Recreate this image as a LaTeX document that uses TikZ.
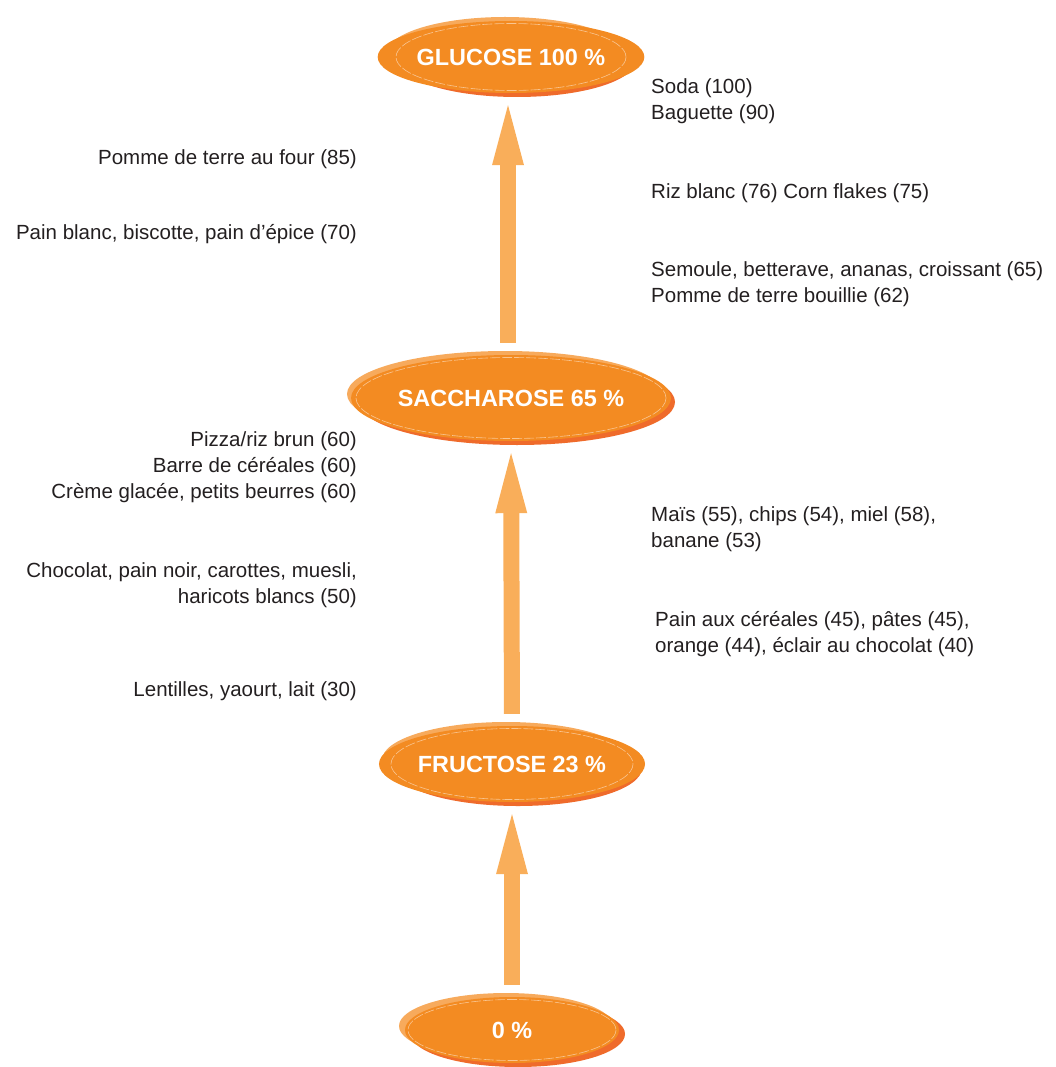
\documentclass[tikz,border=0pt]{standalone}
\usepackage{fontspec}
\setmainfont{Liberation Sans}
\usetikzlibrary{arrows.meta,calc,shapes.geometric}
\definecolor{mainor}{HTML}{F38B22}
\definecolor{lightor}{HTML}{F7AA5C}
\definecolor{darkor}{HTML}{EF6B2B}
\definecolor{arrowcol}{HTML}{F9AE5A}
\definecolor{txt}{HTML}{231F20}
\tikzset{
  bubble/.style={ellipse, inner sep=0pt, fill=mainor, text=white,
    font=\bfseries\fontsize{23.4}{26}\selectfont},
  shadowlight/.style={fill=lightor},
  shadowdark/.style={fill=darkor},
  rimline/.style={draw=white, draw opacity=0.5, line width=0.6pt, dash pattern=on 10pt off 2pt},
  label/.style={inner sep=0pt, text=txt, font=\fontsize{20.5}{26}\selectfont},
  lleft/.style={label, anchor=east, align=right},
  lright/.style={label, anchor=west, align=left},
  uparrow/.style={draw=arrowcol, line width=16pt,
    -{Triangle[width={32pt 0 0},length={60pt 0 0},line width=0pt]}, shorten <=12pt, shorten >=12pt}
}
\newcommand\backbubble[4]{%
  \fill[shadowlight] (#1-6,#2-4) ellipse ({#3/2} and {#4/2});
  \fill[shadowdark] (#1+6,#2+4) ellipse ({#3/2} and {#4/2});
}
\newcommand\rimbubble[4]{%
  \draw[rimline] (#1,#2) ellipse ({#3/2-3} and {#4/2-2.5});
}
\begin{document}
\begin{tikzpicture}[x=1pt,y=-1pt]
\useasboundingbox (0,0) rectangle (1055,1067);
% shadows
\backbubble{511}{57}{236}{72}
\backbubble{511}{398}{316}{86}
\backbubble{512}{764}{248}{76}
\backbubble{512}{1030}{214}{66}
% main bubbles
\node[bubble, minimum width=236pt, minimum height=72pt] (glu) at (511,57) {GLUCOSE 100 \%};
\node[bubble, minimum width=316pt, minimum height=86pt] (sac) at (511,398) {SACCHAROSE 65 \%};
\node[bubble, minimum width=248pt, minimum height=76pt] (fru) at (512,764) {FRUCTOSE 23 \%};
\node[bubble, minimum width=214pt, minimum height=66pt] (zero) at (512,1030) {0 \%};
\rimbubble{511}{57}{236}{72}
\rimbubble{511}{398}{316}{86}
\rimbubble{512}{764}{248}{76}
\rimbubble{512}{1030}{214}{66}
% arrows
\draw[uparrow] ([xshift=-3pt]sac.north) -- ([xshift=-3pt]glu.south);
\draw[uparrow] (fru.north) -- (sac.south);
\draw[uparrow] (zero.north) -- (fru.south);
% right labels
\node[lright] (t1) at (651,101) {Soda (100)\\Baguette (90)};
\node[lright] (t2) at (651,193) {Riz blanc (76) Corn flakes (75)};
\node[lright] (t3) at (651,284) {Semoule, betterave, ananas, croissant (65)\\Pomme de terre bouillie (62)};
\node[lright] (t4) at (651,529) {Maïs (55), chips (54), miel (58),\\banane (53)};
\node[lright] (t5) at (655,634) {Pain aux céréales (45), pâtes (45),\\orange (44), éclair au chocolat (40)};
% left labels
\node[lleft] (s1) at (357,159) {Pomme de terre au four (85)};
\node[lleft] (s2) at (357,234) {Pain blanc, biscotte, pain d’épice (70)};
\node[lleft] (s3) at (357,467) {Pizza/riz brun (60)\\Barre de céréales (60)\\Crème glacée, petits beurres (60)};
\node[lleft] (s4) at (357,585) {Chocolat, pain noir, carottes, muesli,\\haricots blancs (50)};
\node[lleft] (s5) at (357,691) {Lentilles, yaourt, lait (30)};
\end{tikzpicture}
\end{document}
